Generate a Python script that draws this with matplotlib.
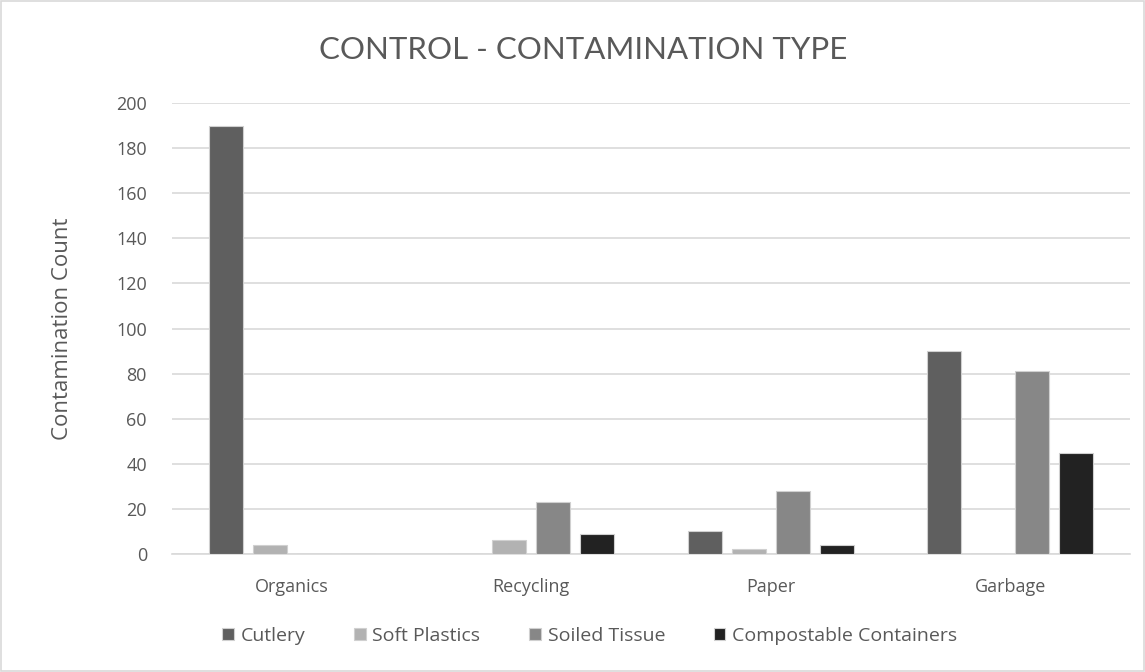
import numpy as np
import matplotlib
matplotlib.use("Agg")
import matplotlib.pyplot as plt
from matplotlib.patches import Rectangle

plt.rcParams['font.family'] = ['Open Sans', 'DejaVu Sans']

categories = ["Organics", "Recycling", "Paper", "Garbage"]
series_names = ["Cutlery", "Soft Plastics", "Soiled Tissue", "Compostable Containers"]
cutlery = [190, 0, 10, 90]
soft_plastics = [4, 6, 2, 0]
soiled_tissue = [0, 23, 28, 81]
compostable = [0, 9, 4, 45]
colors = ["#5f5f5f", "#b2b2b2", "#878787", "#222222"]
text_col = "#595959"

fig = plt.figure(figsize=(11.45, 6.72), dpi=100)
ax = fig.add_axes([0.1502, 0.1756, 0.8367, 0.671])

x = np.arange(len(categories))
pitch = 0.184
width = 0.142
all_series = [cutlery, soft_plastics, soiled_tissue, compostable]
for i, (vals, name, col) in enumerate(zip(all_series, series_names, colors)):
    ax.bar(x + (i - 1.5) * pitch, vals, width, color=col, label=name,
           edgecolor="#d0d0d0", linewidth=0.8, zorder=3)

ax.set_xlim(-0.5, 3.5)
ax.set_ylim(0, 200)
ax.set_yticks(range(0, 201, 20))
ax.set_xticks(x)
ax.set_xticklabels(categories)
ax.grid(axis="y", color="#d9d9d9", linewidth=1.2, zorder=0)
for s in ["top", "right", "left"]:
    ax.spines[s].set_visible(False)
ax.spines["bottom"].set_color("#d9d9d9")
ax.spines["bottom"].set_linewidth(1.2)
ax.tick_params(axis="both", length=0, colors=text_col, labelsize=13)
ax.tick_params(axis="y", pad=18)
ax.tick_params(axis="x", pad=17)

ax.set_ylabel("Contamination Count", fontsize=16, color=text_col, labelpad=31)
fig.text(0.509, 0.926, "CONTROL - CONTAMINATION TYPE", ha="center", va="center",
         fontsize=22.5, color=text_col, family=["Lato", "DejaVu Sans"])

leg = fig.legend(loc="center", bbox_to_anchor=(0.515, 0.054), ncol=4, frameon=False,
                 fontsize=14, handlelength=0.6, handleheight=0.6,
                 handletextpad=0.35, columnspacing=2.5)
for t in leg.get_texts():
    t.set_color(text_col)

fig.patches.append(Rectangle((0.001, 0.0015), 0.998, 0.997, transform=fig.transFigure,
                             fill=False, edgecolor="#d9d9d9", linewidth=1.2))

fig.savefig("out.png", dpi=100)
